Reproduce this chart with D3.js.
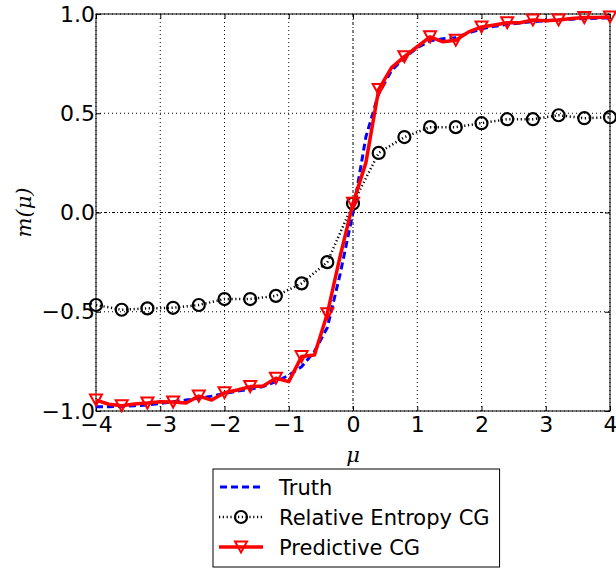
<!DOCTYPE html>
<html><head><meta charset="utf-8">
<script src="https://cdn.jsdelivr.net/npm/d3@7"></script>
<style>
html,body{margin:0;padding:0;background:#fff;}
svg{display:block;font-family:"DejaVu Sans",sans-serif;}
</style></head>
<body><svg id="c" width="616" height="569"></svg>
<script>
// ---- data ----
const muFine = [-4.0,-3.8,-3.6,-3.4,-3.2,-3.0,-2.8,-2.6,-2.4,-2.2,-2.0,-1.8,-1.6,-1.4,-1.2,-1.0,-0.8,-0.6,-0.4,-0.2,
  0.0,0.2,0.4,0.6,0.8,1.0,1.2,1.4,1.6,1.8,2.0,2.2,2.4,2.6,2.8,3.0,3.2,3.4,3.6,3.8,4.0];
const truth = [-0.978,-0.978,-0.977,-0.973,-0.970,-0.962,-0.953,-0.945,-0.936,-0.925,-0.912,-0.900,-0.890,-0.877,-0.852,-0.820,-0.777,-0.700,-0.580,-0.310,
  0.0,0.38,0.60,0.715,0.78,0.83,0.865,0.875,0.88,0.905,0.925,0.938,0.948,0.955,0.962,0.966,0.970,0.974,0.977,0.979,0.980];
const predictive = [-0.945,-0.966,-0.973,-0.965,-0.960,-0.953,-0.955,-0.960,-0.925,-0.945,-0.908,-0.894,-0.877,-0.874,-0.835,-0.852,-0.726,-0.718,-0.510,-0.220,
  0.046,0.25,0.62,0.73,0.785,0.835,0.885,0.86,0.868,0.91,0.935,0.945,0.956,0.956,0.970,0.966,0.970,0.977,0.982,0.982,0.985];
const muCoarse = [-4.0,-3.6,-3.2,-2.8,-2.4,-2.0,-1.6,-1.2,-0.8,-0.4,0.0,0.4,0.8,1.2,1.6,2.0,2.4,2.8,3.2,3.6,4.0];
const relEntropy = [-0.466,-0.49,-0.483,-0.48,-0.466,-0.436,-0.436,-0.42,-0.357,-0.25,0.045,0.30,0.38,0.43,0.43,0.45,0.47,0.47,0.49,0.475,0.48];
const xTicks = [-4,-3,-2,-1,0,1,2,3,4];
const yTicks = [-1.0,-0.5,0.0,0.5,1.0];
const seriesNames = ["Truth","Relative Entropy CG","Predictive CG"];

// ---- layout ----
const L=96, R=610, T=14, B=411;
const svg = d3.select("#c");
const x = d3.scaleLinear().domain([-4,4]).range([L,R]);
const y = d3.scaleLinear().domain([-1,1]).range([B,T]);

// grid
const g = svg.append("g");
xTicks.forEach(t=>{
  g.append("line").attr("x1",x(t)).attr("x2",x(t)).attr("y1",T).attr("y2",B)
   .attr("stroke","#000").attr("stroke-width",1)
   .attr("stroke-dasharray", t===0 ? "3,2,1,2" : "1,3");
});
yTicks.forEach(t=>{
  g.append("line").attr("x1",L).attr("x2",R).attr("y1",y(t)).attr("y2",y(t))
   .attr("stroke","#000").attr("stroke-width",1)
   .attr("stroke-dasharray", t===0 ? "3,2,1,2" : "1,3");
});

// axes
const fs = 22;
const xa = svg.append("g").attr("transform",`translate(0,${B})`)
  .call(d3.axisBottom(x).tickValues(xTicks).tickSizeInner(-5).tickSizeOuter(0).tickPadding(5).tickFormat(d=>d<0?"\u2212"+Math.abs(d):d));
const xt = svg.append("g").attr("transform",`translate(0,${T})`)
  .call(d3.axisTop(x).tickValues(xTicks).tickSizeInner(-5).tickSizeOuter(0).tickFormat(""));
const ya = svg.append("g").attr("transform",`translate(${L},0)`)
  .call(d3.axisLeft(y).tickValues(yTicks).tickSizeInner(-5).tickSizeOuter(0).tickPadding(1).tickFormat(d=>(d<0?"\u2212":"")+Math.abs(d).toFixed(1)));
const yr = svg.append("g").attr("transform",`translate(${R},0)`)
  .call(d3.axisRight(y).tickValues(yTicks).tickSizeInner(-5).tickSizeOuter(0).tickFormat(""));
[xa,xt,ya,yr].forEach(a=>{
  a.select(".domain").remove();
  a.selectAll(".tick line").attr("stroke","#000").attr("stroke-width",1);
  a.selectAll("text").attr("font-size",fs).attr("font-family","DejaVu Sans").attr("fill","#000");
});
svg.append("rect").attr("x",L).attr("y",T).attr("width",R-L).attr("height",B-T)
  .attr("fill","none").attr("stroke","#000").attr("stroke-width",1);

// series
const fine = muFine.map((m,i)=>({m, t:truth[i], p:predictive[i]}));
const coarse = muCoarse.map((m,i)=>({m, r:relEntropy[i]}));
const line = d3.line();
svg.append("path").attr("d", line(fine.map(d=>[x(d.m),y(d.t)])))
  .attr("fill","none").attr("stroke","#0000ff").attr("stroke-width",3).attr("stroke-dasharray","7,4");
svg.append("path").attr("d", line(coarse.map(d=>[x(d.m),y(d.r)])))
  .attr("fill","none").attr("stroke","#000").attr("stroke-width",2.5).attr("stroke-dasharray","1.2,2.6");
svg.selectAll("circle.re").data(coarse).enter().append("circle")
  .attr("cx",d=>x(d.m)).attr("cy",d=>y(d.r)).attr("r",6)
  .attr("fill","none").attr("stroke","#000").attr("stroke-width",2.2);
svg.append("path").attr("d", line(fine.map(d=>[x(d.m),y(d.p)])))
  .attr("fill","none").attr("stroke","#ff0000").attr("stroke-width",3.5).attr("stroke-linejoin","round");
const tri = (cx,cy)=>`M${cx-6},${cy-5.5}L${cx+6},${cy-5.5}L${cx},${cy+5.5}Z`;
svg.selectAll("path.pc").data(fine.filter((d,i)=>i%2===0)).enter().append("path")
  .attr("d",d=>tri(x(d.m),y(d.p))).attr("fill","none").attr("stroke","#ff0000").attr("stroke-width",2);

// axis labels
svg.append("text").attr("x",x(0)).attr("y",462).attr("text-anchor","middle")
  .attr("font-family","DejaVu Serif").attr("font-style","italic").attr("font-size",21).text("\u03bc");
svg.append("text").attr("transform",`translate(31,${(T+B)/2}) rotate(-90)`).attr("text-anchor","middle")
  .attr("font-family","DejaVu Serif").attr("font-style","italic").attr("font-size",21).text("m(\u03bc)");

// legend
const lg = svg.append("g");
const lx=213, ly=469, rowY=[487,517,547];
const box = lg.append("rect").attr("x",lx).attr("y",ly).attr("height",98).attr("fill","#fff").attr("stroke","#000").attr("stroke-width",1);
let maxW=0;
seriesNames.forEach((n,i)=>{
  const yy=rowY[i];
  const ln = lg.append("line").attr("x1",219).attr("x2",263).attr("y1",yy).attr("y2",yy).attr("fill","none");
  if(i===0) ln.attr("stroke","#0000ff").attr("stroke-width",3).attr("stroke-dasharray","7,4").attr("x1",220);
  if(i===1){ ln.attr("stroke","#000").attr("stroke-width",2.5).attr("stroke-dasharray","1.2,2.6");
    lg.append("circle").attr("cx",241).attr("cy",yy).attr("r",6).attr("fill","none").attr("stroke","#000").attr("stroke-width",2.2);}
  if(i===2){ ln.attr("stroke","#ff0000").attr("stroke-width",3.5);
    lg.append("path").attr("d",tri(241,yy)).attr("fill","none").attr("stroke","#ff0000").attr("stroke-width",2);}
  const tx = lg.append("text").attr("x",279).attr("y",yy).attr("dy","0.36em").attr("font-size",21).attr("font-family","DejaVu Sans").text(n);
  maxW=Math.max(maxW, tx.node().getComputedTextLength());
});
box.attr("width", 279+maxW+10-lx);
</script></body></html>
